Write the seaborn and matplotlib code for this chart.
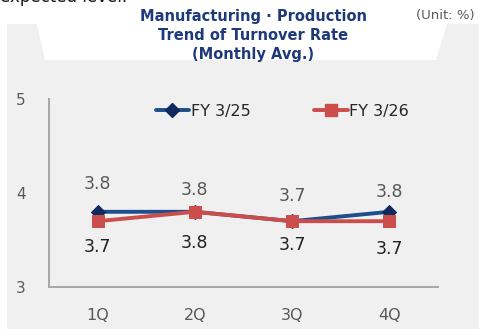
import matplotlib
matplotlib.use("Agg")
import matplotlib.pyplot as plt
from matplotlib.patches import Rectangle, Polygon
from matplotlib.lines import Line2D
import pandas as pd
import seaborn as sns

quarters = ["1Q", "2Q", "3Q", "4Q"]
fy25 = [3.8, 3.8, 3.7, 3.8]
fy26 = [3.7, 3.8, 3.7, 3.7]
series_names = ["FY 3/25", "FY 3/26"]
y_ticks = [3, 4, 5]

df = pd.DataFrame({
    "quarter": quarters * 2,
    "rate": fy25 + fy26,
    "series": [series_names[0]] * 4 + [series_names[1]] * 4,
})

sns.set_theme(style="white")
plt.rcParams["font.family"] = ["DejaVu Sans"]

W, H = 479, 329
fig = plt.figure(figsize=(W / 100, H / 100), dpi=100)
fig.patch.set_facecolor("white")

def fx(px):
    return px / W

def fy(py):
    return 1 - py / H

# grey panel with a white notch for the title
fig.patches.append(Rectangle((fx(7), 0), 1 - fx(7), fy(24), transform=fig.transFigure,
                             facecolor="#f0f0f0", edgecolor="none", zorder=-10))
fig.patches.append(Polygon([(fx(37), fy(24)), (fx(447), fy(24)), (fx(436), fy(60)), (fx(45), fy(60))],
                           closed=True, transform=fig.transFigure,
                           facecolor="white", edgecolor="none", zorder=-9))

ax = fig.add_axes([fx(49), fy(287), fx(438) - fx(49), fy(99) - fy(287)])
ax.set_facecolor("none")
ax.set_zorder(1)

blue_line = "#1f4e8c"
blue_mark = "#0f2a5e"
red = "#cc4e4c"

sns.lineplot(data=df, x="quarter", y="rate", hue="series", style="series",
             palette={series_names[0]: blue_line, series_names[1]: red},
             markers={series_names[0]: "D", series_names[1]: "s"},
             dashes=False, linewidth=2.8, markersize=8.5, ax=ax, legend=False)
ax.lines[0].set_markerfacecolor(blue_mark)
ax.lines[0].set_markeredgecolor(blue_mark)
ax.lines[0].set_markersize(7)
ax.lines[1].set_markerfacecolor(red)
ax.lines[1].set_markeredgecolor(red)

ax.set_xlim(-0.5, 3.5)
ax.set_ylim(3, 5)
ax.set_yticks(y_ticks)
ax.set_yticklabels([str(t) for t in y_ticks])
ax.set_xlabel("")
ax.set_ylabel("")
ax.tick_params(axis="both", length=0, colors="#595959")
ax.tick_params(axis="y", pad=17, labelsize=11)
ax.tick_params(axis="x", pad=15, labelsize=11.5)
for s in ["top", "right"]:
    ax.spines[s].set_visible(False)
for s in ["left", "bottom"]:
    ax.spines[s].set_color("#a6a6a6")
    ax.spines[s].set_linewidth(1.4)

# value labels
up_off = [28, 22, 25, 20]
for i, v in enumerate(fy25):
    ax.annotate(f"{v:.1f}", (i, v), xytext=(0, up_off[i]), textcoords="offset pixels",
                ha="center", va="center", fontsize=12.5, color="#595959")
down_off = [-26, -31, -24, -28]
for i, v in enumerate(fy26):
    ax.annotate(f"{v:.1f}", (i, v), xytext=(0, down_off[i]), textcoords="offset pixels",
                ha="center", va="center", fontsize=12.5, color="#222222")

# legend
handles = [
    Line2D([], [], color=blue_line, lw=2.8, marker="D", markersize=7,
           markerfacecolor=blue_mark, markeredgecolor=blue_mark),
    Line2D([], [], color=red, lw=2.8, marker="s", markersize=8.5,
           markerfacecolor=red, markeredgecolor=red),
]
leg = ax.legend(handles, series_names, loc="center", bbox_to_anchor=(0.6, 0.935),
                ncol=2, frameon=False, fontsize=11.5, handlelength=2.1, handletextpad=0.1,
                columnspacing=4.0)
for t in leg.get_texts():
    t.set_color("#262626")

# titles
title_color = "#1f3a7a"
for text, py in [("Manufacturing \u00b7 Production", 17), ("Trend of Turnover Rate", 36),
                 ("(Monthly Avg.)", 54)]:
    fig.text(fx(253), fy(py), text, ha="center", va="center",
             fontsize=10.5, fontweight="bold", color=title_color)
fig.text(fx(475), fy(15), "(Unit: %)", ha="right", va="center",
         fontsize=9.5, color="#595959")
fig.text(fx(0), fy(2), "expected level.", ha="left", va="baseline",
         fontsize=12, color="#1a1a1a")

fig.savefig("out.png", dpi=100)
